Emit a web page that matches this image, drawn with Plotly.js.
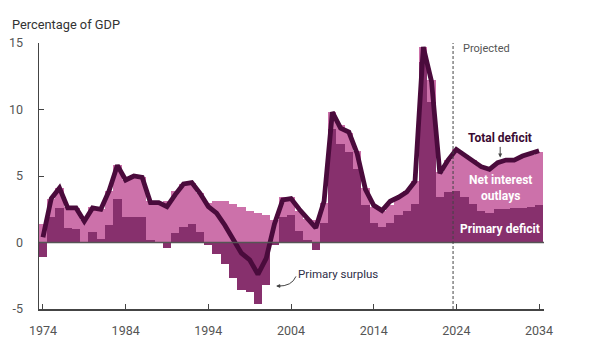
<!DOCTYPE html>
<html>
<head>
<meta charset="utf-8">
<script src="https://cdn.plot.ly/plotly-3.0.1.min.js"></script>
<style>html,body{margin:0;padding:0;background:#fff;}#chart{width:600px;height:353px;}</style>
</head>
<body>
<div id="chart"></div>
<script>
const years = [1974,1975,1976,1977,1978,1979,1980,1981,1982,1983,1984,1985,1986,1987,1988,1989,1990,1991,1992,1993,1994,1995,1996,1997,1998,1999,2000,2001,2002,2003,2004,2005,2006,2007,2008,2009,2010,2011,2012,2013,2014,2015,2016,2017,2018,2019,2020,2021,2022,2023,2024,2025,2026,2027,2028,2029,2030,2031,2032,2033,2034];

const primaryDeficit = [-1.1,1.9,2.6,1.1,1.0,0.0,0.8,0.3,1.3,3.3,1.9,1.9,1.9,0.2,0.0,-0.4,0.7,1.2,1.4,0.8,-0.2,-0.9,-1.6,-2.7,-3.6,-3.7,-4.6,-3.2,-0.2,1.9,2.1,0.9,0.2,-0.6,1.5,8.5,7.4,6.8,5.5,2.8,1.5,1.2,1.5,2.1,2.4,2.9,13.6,10.6,3.4,3.8,3.9,3.4,2.9,2.4,2.2,2.5,2.5,2.6,2.6,2.7,2.8];

const netInterest = [1.4,1.4,1.5,1.6,1.6,1.7,1.9,2.2,2.6,2.5,2.8,3.1,3.0,2.9,3.0,3.1,3.2,3.2,3.1,2.9,3.0,3.1,3.1,2.9,2.7,2.4,2.2,2.1,1.7,1.5,1.3,1.5,1.6,1.7,1.5,1.3,1.4,1.4,1.4,1.3,1.2,1.2,1.3,1.3,1.5,1.7,1.1,1.6,1.9,2.4,3.1,3.2,3.3,3.3,3.4,3.5,3.7,3.7,3.8,3.9,4.0];

const totalDeficit = [0.4,3.3,4.1,2.6,2.6,1.6,2.6,2.5,3.9,5.8,4.7,5.0,4.9,3.0,3.0,2.7,3.6,4.4,4.5,3.7,2.7,2.2,1.3,0.2,-0.8,-1.3,-2.4,-1.2,1.4,3.2,3.3,2.5,1.8,1.1,3.1,9.8,8.6,8.3,6.7,4.0,2.8,2.4,3.1,3.4,3.8,4.6,14.7,12.1,5.2,6.2,7.0,6.6,6.2,5.7,5.5,6.0,6.2,6.2,6.5,6.7,6.9];

const xTicks = [1974,1984,1994,2004,2014,2024,2034];
const yTicks = [-5,0,5,10,15];

const FONT = "Roboto, 'Liberation Sans', Arial, sans-serif";
const DARK = '#87306d', LIGHT = '#cc71aa', LINE = '#4a0b3c';

const traces = [
  {type:'bar', x: years, y: primaryDeficit, width: 1, marker:{color: DARK, line:{width:0}}, hoverinfo:'skip', name:'Primary deficit'},
  {type:'bar', x: years, y: netInterest, width: 1, marker:{color: LIGHT, line:{width:0}}, hoverinfo:'skip', name:'Net interest outlays'},
  {type:'scatter', mode:'lines', x: years, y: totalDeficit, line:{color: LINE, width: 4.8, shape:'linear'}, hoverinfo:'skip', name:'Total deficit'}
];

const layout = {
  width: 600, height: 353,
  margin: {l: 39, r: 56, t: 43, b: 44},
  paper_bgcolor: '#fff', plot_bgcolor: '#fff',
  showlegend: false,
  barmode: 'relative', bargap: 0,
  font: {family: FONT, size: 12, color: '#555'},
  xaxis: {
    range: [1973.52, 2034.6], tickvals: xTicks, ticktext: xTicks.map(String),
    ticks: 'inside', ticklen: 5, tickcolor: '#444', tickwidth: 1,
    showline: true, linecolor: '#444', linewidth: 1.5,
    showgrid: false, zeroline: false, ticklabelstandoff: 9,
    tickfont: {family: FONT, size: 12.5, color: '#555'}
  },
  yaxis: {
    range: [-5, 15], tickvals: yTicks, ticktext: yTicks.map(String),
    ticks: 'inside', ticklen: 5, tickcolor: '#444', tickwidth: 1,
    showline: true, linecolor: '#444', linewidth: 1.5,
    showgrid: false, zeroline: false, ticklabelstandoff: 12,
    tickfont: {family: FONT, size: 12.5, color: '#555'}
  },
  shapes: [
    {type:'line', xref:'paper', x0:0, x1:1, yref:'y', y0:0, y1:0, line:{color:'#555', width:1.5}, layer:'above'},
    {type:'line', xref:'x', x0:2023.6, x1:2023.6, yref:'paper', y0:0, y1:1, line:{color:'#444', width:1, dash:'3px,2px'}, layer:'above'},
    {type:'path', xref:'x', yref:'y', path:'M 2004.6,-2.55 Q 2004.1,-3.3 2002.4,-3.28', line:{color:'#444', width:1}, layer:'above'}
  ],
  annotations: [
    {xref:'paper', yref:'paper', x:-0.058, y:1.071, xanchor:'left', yanchor:'middle', showarrow:false,
     text:'Percentage of GDP', font:{family: FONT, size: 12.8, color:'#333'}},
    {xref:'x', yref:'y', x:2024.55, y:14.6, xanchor:'left', yanchor:'middle', showarrow:false,
     text:'Projected', font:{family: FONT, size: 11, color:'#555'}},
    {xref:'x', yref:'y', x:2029.3, y:6.4, ax:0, ay:-19, showarrow:true, arrowhead:2, arrowsize:0.8, arrowwidth:1, arrowcolor:'#444', standoff:0,
     text:'<b>Total deficit</b>', font:{family: FONT, size: 12, color:'#3a0b32'}},
    {xref:'x', yref:'y', x:2029.3, y:4.1, showarrow:false,
     text:'<b>Net interest<br>outlays</b>', font:{family: FONT, size: 12, color:'#fff'}},
    {xref:'x', yref:'y', x:2029.3, y:1.0, showarrow:false,
     text:'<b>Primary deficit</b>', font:{family: FONT, size: 12, color:'#fff'}},
    {xref:'x', yref:'y', x:2004.65, y:-2.4, xanchor:'left', yanchor:'middle', showarrow:false,
     text:'Primary surplus', font:{family: FONT, size: 11.5, color:'#2e2e48'}},
    {xref:'x', yref:'y', x:2002.2, y:-3.28, ax:6, ay:0, showarrow:true, arrowhead:2, arrowsize:0.8, arrowwidth:1, arrowcolor:'#444', standoff:0, text:''}
  ]
};

Plotly.newPlot('chart', traces, layout, {staticPlot: true, displayModeBar: false});
</script>
</body>
</html>
